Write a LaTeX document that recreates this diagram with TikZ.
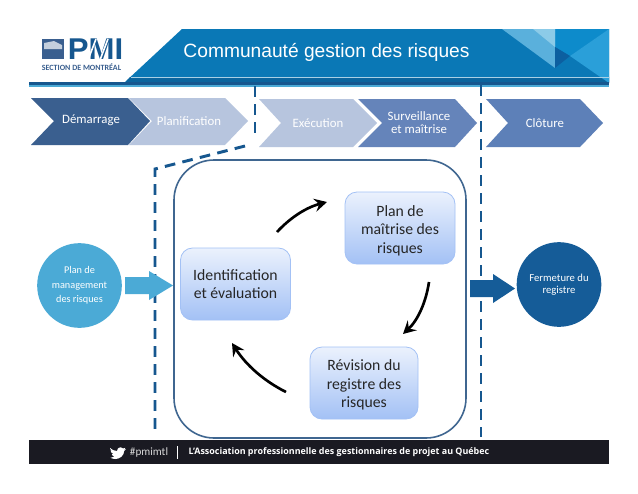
\documentclass[tikz,border=0pt]{standalone}
\usepackage{fontspec}
\usepackage{graphicx}
\setmainfont{Carlito}
\newfontfamily\titlefont{Liberation Sans}
\newfontfamily\footfont{Open Sans}
\usetikzlibrary{arrows.meta}
\definecolor{hdr}{HTML}{0A78B6}
\definecolor{hdrdark}{HTML}{0B659E}
\definecolor{navy}{HTML}{16578F}
\definecolor{chevA}{HTML}{3A5F8F}
\definecolor{chevB}{HTML}{B7C5DE}
\definecolor{chevC}{HTML}{6584BA}
\definecolor{chevD}{HTML}{5D80B8}
\definecolor{boxline}{HTML}{3F6690}
\definecolor{skyc}{HTML}{4BAAD6}
\definecolor{deepc}{HTML}{155C98}
\definecolor{footc}{HTML}{1A1A22}
\definecolor{facetA}{HTML}{5AB0DC}
\definecolor{facetB}{HTML}{8CCBE8}
\definecolor{facetC}{HTML}{0D8BCB}
\definecolor{facetD}{HTML}{2A9FD9}
\definecolor{facetE}{HTML}{0C5FA0}
\definecolor{stagec}{HTML}{A3C1F5}
\tikzset{
  x=0.75pt,y=-0.75pt,
  chevlabel/.style={text=white,font=\fontsize{9.6}{10}\selectfont,align=center,inner sep=0pt},
  boundary/.style={navy,line width=2.2pt,dash pattern=on 8pt off 5.5pt},
  stage/.style={rounded corners=9pt,draw=#1,line width=.6pt,top color=#1!22!white,bottom color=#1,
     text=black!85,font=\fontsize{11.8}{14}\selectfont,align=center,inner sep=0pt},
  flow/.style={-{Stealth[length=9.5pt,width=10pt,inset=3.5pt]},line width=2pt,black},
  disc/.style={circle,fill=#1,text=white,align=center,inner sep=0pt}
}
\begin{document}
\begin{tikzpicture}
\useasboundingbox (0,0) rectangle (638,493);
\fill[white] (0,0) rectangle (638,493);
% header
\fill[hdr] (125,82) -- (182,29) -- (609,29) -- (609,82) -- cycle;
\fill[hdrdark] (130,77) -- (609,77) -- (609,83) -- (125,83) -- cycle;
% corner facets
\fill[facetC] (555,29) -- (609,29) -- (570,56) -- (555,47) -- cycle;
\fill[facetA] (502,29) -- (555,68) -- (555,29) -- cycle;
\fill[facetB] (533,29) -- (555,47) -- (555,29) -- cycle;
\fill[facetD] (609,29) -- (570,56) -- (609,83) -- cycle;
\fill[facetE] (555,47) -- (570,56) -- (555,68) -- cycle;
\draw[white!65!hdr,line width=.4pt] (131,77) -- (609,77);
\fill[navy] (29,82) rectangle (609,85);
\fill[skyc] (29,85) rectangle (609,86.5);
\node[font=\titlefont\fontsize{14.4}{16}\selectfont,text=white,inner sep=0pt] (title) at (326.5,52) {Communauté gestion des risques};
% logo
\fill[chevA] (42,39) rectangle (64,59);
\fill[white!70!chevA] (44,43) -- (54,41) -- (62,45) -- (62,49) -- (44,49) -- cycle;
\node[font=\titlefont\bfseries\fontsize{22}{22}\selectfont,text=navy,inner sep=0pt,anchor=center] (pmi) at (95.5,49.5) {\resizebox{41.5pt}{15.5pt}{PMI}};
\draw[white,line width=1.2pt] (88,60) -- (96,39);
\draw[white,line width=1.2pt] (100,60) -- (108,39);
\node[font=\fontsize{6}{6}\bfseries\selectfont,text=chevA,inner sep=0pt] (sec) at (81.5,67) {SECTION DE MONTRÉAL};
% chevrons
\fill[chevA] (31,98) -- (128,98) -- (150,121) -- (128,145) -- (31,145) -- (54,121) -- cycle;
\fill[chevB] (129,98) -- (225,98) -- (248,121) -- (225,145) -- (129,145) -- (152,121) -- cycle;
\fill[chevB] (259,99) -- (353,99) -- (377,123) -- (353,147) -- (259,147) -- (281,123) -- cycle;
\fill[chevC] (358,99) -- (455,99) -- (477,123) -- (455,147) -- (358,147) -- (382,123) -- cycle;
\fill[chevD] (486,99) -- (580,99) -- (603,123) -- (580,147) -- (486,147) -- (508,123) -- cycle;
\node[chevlabel] (c1) at (91,120.5) {Démarrage};
\node[chevlabel] (c2) at (189,121) {Planification};
\node[chevlabel] (c3) at (318,123) {Exécution};
\node[chevlabel] (c4) at (419,122.5) {Surveillance\\et maîtrise};
\node[chevlabel] (c5) at (545,123) {Clôture};
% boundaries
\coordinate (b1) at (255,86);
\coordinate (b2) at (255,135);
\coordinate (b3) at (245,146);
\coordinate (b4) at (155,169);
\coordinate (b5) at (155,436);
\coordinate (b6) at (481,85);
\coordinate (b7) at (481,437);
\draw[boundary] (b1) -- (b2);
\draw[boundary] (b3) -- (b4) -- (b5);
\draw[boundary] (b6) -- (b7);
% central frame
\draw[boxline,line width=1.2pt,rounded corners=30pt] (174,160) rectangle (466,438);
% stages
\node[stage=stagec,minimum width=82.5pt,minimum height=54pt] (ident) at (235.5,284) {Identification\\et évaluation};
\node[stage=stagec,minimum width=82.5pt,minimum height=54pt] (plan) at (400,228) {\rule{0pt}{12pt}Plan de\\maîtrise des\\risques};
\node[stage=stagec,minimum width=81pt,minimum height=54pt] (rev) at (364,383) {\rule{0pt}{11pt}Révision du\\registre des\\risques};
% discs
\node[disc=skyc,minimum size=63.5pt,font=\fontsize{7.7}{11}\selectfont] (start) at (79.5,285.5) {Plan de\\management\\des risques};
\node[disc=deepc,minimum size=63.5pt,font=\fontsize{8}{9}\selectfont] (close) at (559,284.5) {Fermeture du\\registre};
% block arrows
\fill[skyc] (125,277) -- (149,277) -- (149,271) -- (173,285.5) -- (149,300) -- (149,294) -- (125,294) -- cycle;
\fill[deepc] (470,280) -- (493,280) -- (493,274) -- (515,288.5) -- (493,303) -- (493,297) -- (470,297) -- cycle;
% cycle arrows
\coordinate (a1s) at (277,232);
\coordinate (a1e) at (327,202);
\coordinate (a2s) at (429,282);
\coordinate (a2e) at (403,334);
\coordinate (a3s) at (286,392);
\coordinate (a3e) at (232,343);
\draw[flow] (a1s) .. controls (288,220) and (304,208) .. (a1e);
\draw[flow] (a2s) .. controls (426,302) and (418,320) .. (a2e);
\draw[flow] (a3s) .. controls (264,381) and (246,365) .. (a3e);
% footer
\fill[footc] (29,440) rectangle (609,464);
\begin{scope}[shift={(110,446)},xscale=.59,yscale=.62,shift={(-98,-446)}]
\fill[white] (98,449) .. controls (103,453) and (106,454) .. (110,454) .. controls (110,449) and (116,446) .. (120,450) .. controls (122,450) and (123,449) .. (124,449) .. controls (124,450) and (123,451) .. (122,452) .. controls (123,452) and (124,451) .. (125,451) .. controls (124,452) and (123,453) .. (122,454) .. controls (122,461) and (115,467) .. (107,467) .. controls (104,467) and (101,466) .. (99,465) .. controls (102,465) and (104,464) .. (106,463) .. controls (103,463) and (102,461) .. (101,459) .. controls (102,459) and (103,459) .. (104,459) .. controls (101,458) and (99,456) .. (99,453) .. controls (100,454) and (101,454) .. (102,454) .. controls (99,452) and (98,451) .. (98,449) -- cycle;
\end{scope}
\node[font=\fontsize{8.4}{9}\selectfont,text=white!85!black,inner sep=0pt] (tag) at (149,452.5) {\#pmimtl};
\fill[white] (176.5,446) rectangle (177.7,459);
\node[font=\footfont\bfseries\fontsize{6.7}{9}\selectfont,text=white,inner sep=0pt] (assoc) at (339,452.5) {L’Association professionnelle des gestionnaires de projet au Québec};
\end{tikzpicture}
\end{document}
